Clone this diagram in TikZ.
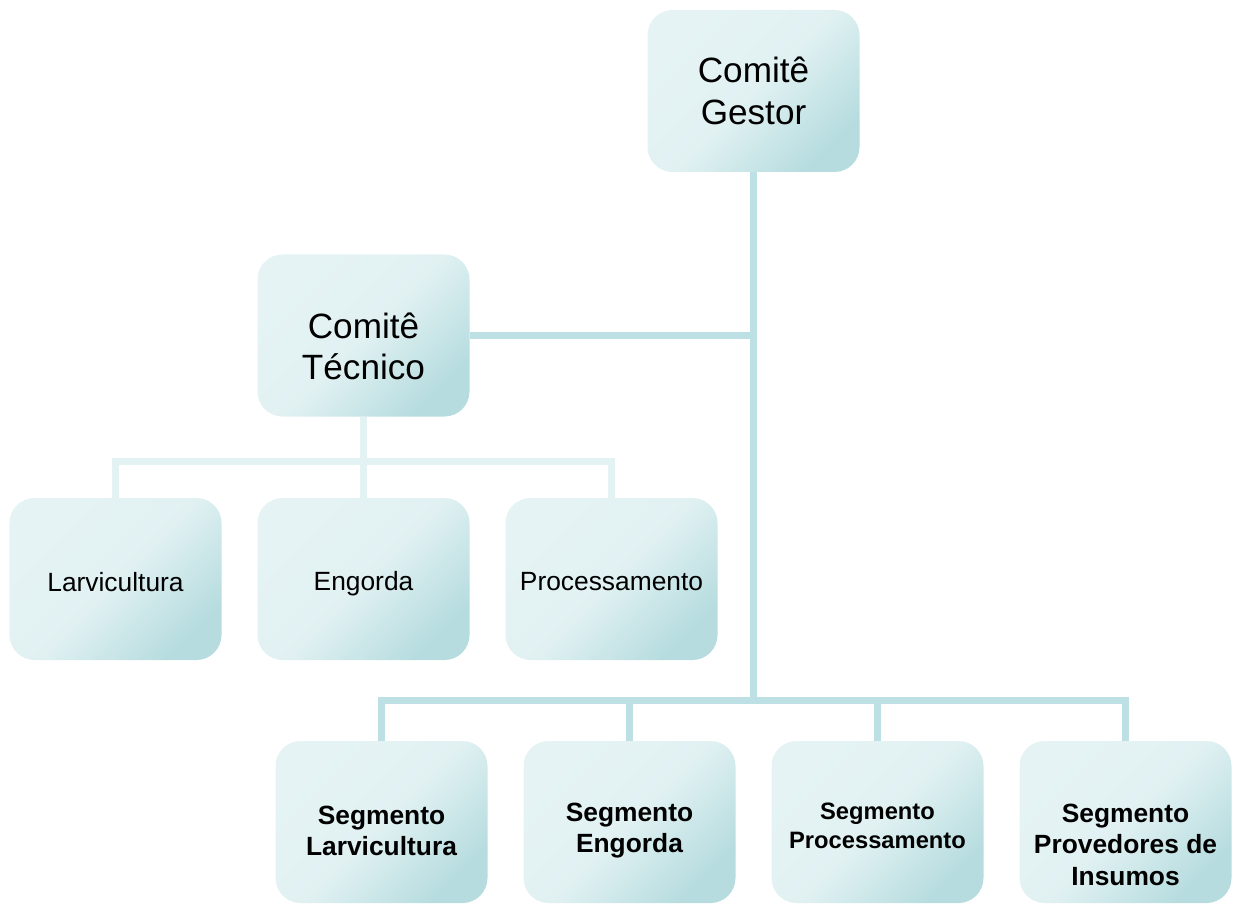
\documentclass[tikz,border=0pt]{standalone}
\usepackage{fontspec}
\setmainfont{Liberation Sans}
\usepackage{tikz}
\usetikzlibrary{calc}
\definecolor{boxlight}{HTML}{E5F3F4}
\definecolor{boxdark}{HTML}{B6DCDF}
\definecolor{busdark}{HTML}{BCE0E3}
\definecolor{buslight}{HTML}{E3F2F3}

\begin{document}
\begin{tikzpicture}[
    orgbox/.style={rounded corners=0.5cm, minimum width=4.24cm, minimum height=3.24cm,
        top color=boxlight, bottom color=boxdark, middle color=boxlight!92!boxdark,
        shading angle=45},
    bigtext/.style={align=center, font=\fontsize{20}{23.5}\selectfont},
    midtext/.style={align=center, font=\fontsize{15}{18}\selectfont},
    segtext/.style={align=center, font=\bfseries\fontsize{15}{17.5}\selectfont},
    darkline/.style={line width=4.3pt, busdark},
    lightline/.style={line width=4pt, buslight}]
    \useasboundingbox (0, 0) rectangle (24.66, 18.06);

    % Top level
    \node[orgbox, label={[bigtext]center:Comitê\\Gestor}] (gestor) at (15.07, 16.24) {};
    \node[orgbox, label={[bigtext, yshift=-6pt]center:Comitê\\Técnico}] (tecnico) at (7.27, 11.35) {};

    % Technical areas
    \node[orgbox, label={[midtext, yshift=-1.5pt]center:Larvicultura}] (larv) at (2.31, 6.48) {};
    \node[orgbox, label={[midtext, yshift=-2.5pt]center:Engorda}] (engorda) at (7.27, 6.48) {};
    \node[orgbox, label={[midtext, yshift=-1.5pt]center:Processamento}] (proc) at (12.23, 6.48) {};

    % Segments
    \node[orgbox, label={[segtext, yshift=-5pt]center:Segmento\\Larvicultura}] (seglarv) at (7.63, 1.62) {};
    \node[orgbox, label={[segtext, yshift=-5pt]center:Segmento\\Engorda}] (segeng) at (12.59, 1.62) {};
    \node[orgbox, label={[segtext, font=\bfseries\fontsize{13.5}{16.5}\selectfont, yshift=-2pt]center:Segmento\\Processamento}] (segproc) at (17.55, 1.62) {};
    \node[orgbox, label={[segtext, font=\bfseries\fontsize{15}{18}\selectfont, yshift=-13pt]center:Segmento\\Provedores de\\Insumos}] (segprov) at (22.51, 1.62) {};

    % Connectors
    \draw[lightline] (tecnico.south) -- ++(0, -0.89) -| (larv.north);
    \draw[lightline] (tecnico.south) -- ++(0, -0.89) -| (proc.north);
    \draw[lightline] (tecnico.south) -- (engorda.north);

    \draw[darkline] (tecnico.east) -- (tecnico.east -| gestor.south);
    \draw[darkline] (gestor.south) -- ++(0, -10.56) -| (seglarv.north);
    \draw[darkline] (gestor.south) -- ++(0, -10.56) -| (segprov.north);
    \draw[darkline] (segeng.north) |- ($(gestor.south)+(0, -10.56)$);
    \draw[darkline] (segproc.north) |- ($(gestor.south)+(0, -10.56)$);
\end{tikzpicture}
\end{document}
